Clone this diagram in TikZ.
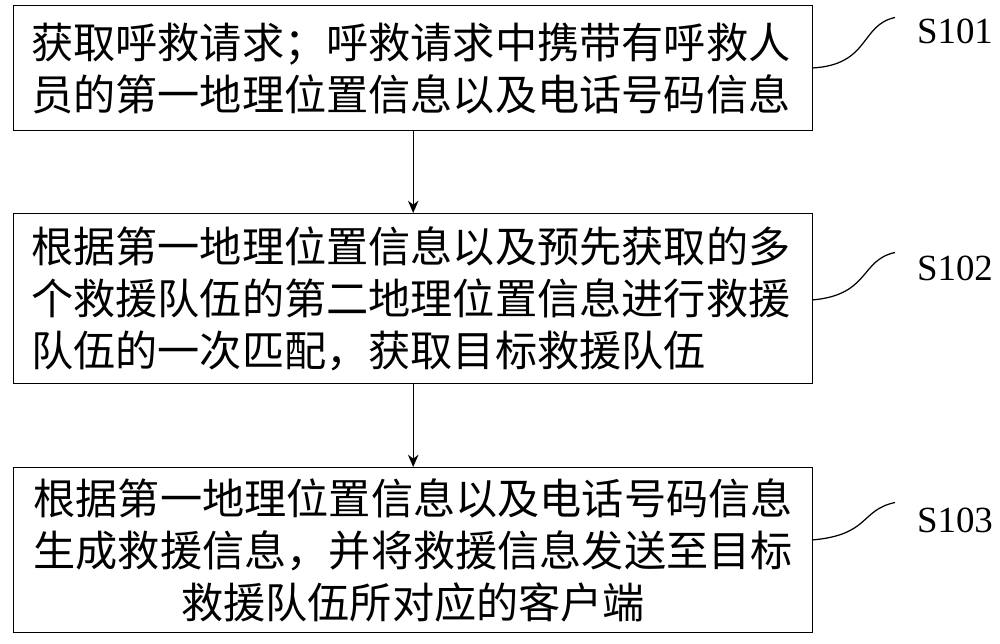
\documentclass[tikz,border=0pt]{standalone}
\usepackage{fontspec}
\setmainfont{Liberation Serif}
\newfontfamily\cjk{Noto Sans CJK SC}
\usetikzlibrary{arrows.meta}
\begin{document}
\begin{tikzpicture}[x=1cm,y=1cm,
  stepbox/.style={draw,line width=0.8pt,minimum width=15.98cm,inner xsep=0.35cm,inner ysep=0pt,font=\cjk\fontsize{24}{29.5}\selectfont},
  lbl/.style={font=\fontsize{21}{24}\selectfont,anchor=center},
  lead/.style={line width=0.7pt},
  arr/.style={-{Stealth[length=7pt,width=6pt]},line width=0.7pt}]
\useasboundingbox (0,0) rectangle (20,-12.88);
\node[stepbox,minimum height=2.5cm,anchor=north west,align=left,text width=15.28cm] (b1) at (0.26,-0.1) {获取呼救请求；呼救请求中携带有呼救人\\员的第一地理位置信息以及电话号码信息};
\node[stepbox,minimum height=3.4cm,anchor=north west,align=left,text width=15.28cm] (b2) at (0.26,-4.26) {根据第一地理位置信息以及预先获取的多\\个救援队伍的第二地理位置信息进行救援\\队伍的一次匹配，获取目标救援队伍};
\node[stepbox,minimum height=3.3cm,anchor=north west,align=center,text width=15.28cm] (b3) at (0.26,-9.34) {根据第一地理位置信息以及电话号码信息\\生成救援信息，并将救援信息发送至目标\\救援队伍所对应的客户端};
\draw[arr] (b1.south) -- (b2.north);
\draw[arr] (b2.south) -- (b3.north);
\node[lbl] (s1) at (19.1,-0.62) {S101};
\node[lbl] (s2) at (19.1,-5.36) {S102};
\node[lbl] (s3) at (19.1,-10.4) {S103};
\coordinate (e1) at (16.24,-1.36);
\coordinate (e2) at (16.24,-6.0);
\coordinate (e3) at (16.24,-10.8);
\draw[lead] (e1) .. controls (17.4,-1.3) and (17.2,-0.5) .. (17.9,-0.35);
\draw[lead] (e2) .. controls (17.4,-5.9) and (17.2,-5.2) .. (17.9,-5.05);
\draw[lead] (e3) .. controls (17.4,-10.7) and (17.2,-10.2) .. (17.9,-10.05);
\end{tikzpicture}
\end{document}
